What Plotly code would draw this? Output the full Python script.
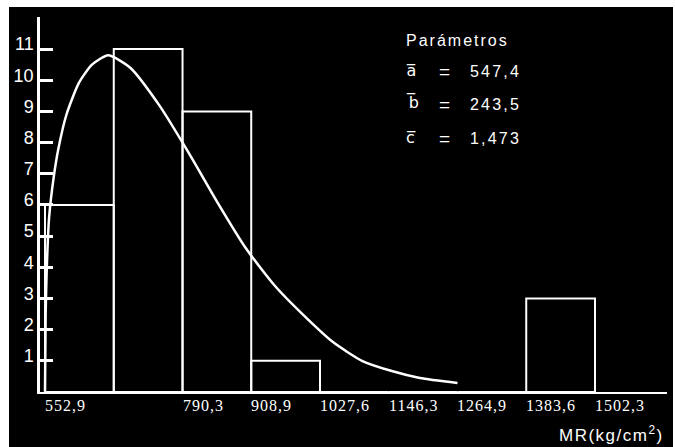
import plotly.graph_objects as go

# ---- data ----
class_edges = [552.9, 671.6, 790.3, 908.9, 1027.6, 1146.3, 1264.9, 1383.6, 1502.3]
frequencies = [6, 11, 9, 1, 0, 0, 0, 3]
edge_labels = ["552,9", "", "790,3", "908,9", "1027,6", "1146,3", "1264,9", "1383,6", "1502,3"]
y_ticks = [1, 2, 3, 4, 5, 6, 7, 8, 9, 10, 11]

curve_mr = [552.9, 554.0, 556.0, 560.0, 568.0, 576.0, 590.0, 611.0, 634.0, 662.0,
            700.0, 750.0, 800.0, 850.0, 900.0, 950.0, 1000.0, 1050.0, 1100.0,
            1150.0, 1200.0, 1264.9]
curve_freq = [0.0, 2.5, 4.0, 5.6, 6.9, 7.8, 8.9, 9.9, 10.5, 10.8,
              10.4, 9.2, 7.7, 6.1, 4.6, 3.4, 2.45, 1.6, 1.0,
              0.68, 0.45, 0.29]

param_title = "Parámetros"
param_names = ["a", "b", "c"]
param_values = ["547,4", "243,5", "1,473"]
x_title = "MR(kg/cm<sup>2</sup>)"

# ---- layout geometry ----
W, H = 675, 447
L, R, T, B = 40, 8, 17, 55
PW, PH = W - L - R, H - T - B


def px(x):
    return (x - L) / PW


def py(y):
    return (H - B - y) / PH


def spaced(text, sp):
    return '<span style="letter-spacing:%spx">%s</span>' % (sp, text)


mids = [(a + b) / 2 for a, b in zip(class_edges[:-1], class_edges[1:])]
widths = [b - a for a, b in zip(class_edges[:-1], class_edges[1:])]

fig = go.Figure()
fig.add_trace(go.Bar(
    x=mids, y=frequencies, width=widths,
    marker=dict(color="rgba(0,0,0,0)", line=dict(color="white", width=2)),
    hoverinfo="skip", showlegend=False,
))
fig.add_trace(go.Scatter(
    x=curve_mr, y=curve_freq, mode="lines",
    line=dict(color="white", width=2.5, shape="spline", smoothing=0.6),
    hoverinfo="skip", showlegend=False,
))

sans = "Liberation Sans"
serif = "Liberation Serif"
ann = []
for v, t in zip(class_edges, edge_labels):
    if t:
        ann.append(dict(x=v, xref="x", y=py(395), yref="paper", text=spaced(t, 1),
                        xanchor="left", yanchor="top", showarrow=False, xshift=-2,
                        font=dict(family=serif, size=16, color="white")))

ann.append(dict(x=px(404), y=py(41), xref="paper", yref="paper", text=spaced(param_title, 2),
                xanchor="left", yanchor="middle", showarrow=False,
                font=dict(family=sans, size=16, color="white")))
rows_y = [71, 104, 138]
for name, val, yy in zip(param_names, param_values, rows_y):
    ann.append(dict(x=px(404), y=py(yy - 1), xref="paper", yref="paper",
                    text=name + "\u0305", xanchor="left", yanchor="middle", showarrow=False,
                    font=dict(family="DejaVu Sans", size=16, color="white")))
    ann.append(dict(x=px(437), y=py(yy), xref="paper", yref="paper", text="=",
                    xanchor="left", yanchor="middle", showarrow=False,
                    font=dict(family=sans, size=19, color="white")))
    ann.append(dict(x=px(468), y=py(yy), xref="paper", yref="paper", text=spaced(val, 2.2),
                    xanchor="left", yanchor="middle", showarrow=False,
                    font=dict(family=sans, size=16, color="white")))

ann.append(dict(x=px(666), y=py(434), xref="paper", yref="paper", text=spaced(x_title, 1.5),
                xanchor="right", yanchor="middle", showarrow=False,
                font=dict(family=sans, size=17, color="white")))

shapes = [
    dict(type="rect", xref="paper", yref="paper", x0=px(0), x1=px(9), y0=py(H), y1=py(0),
         fillcolor="white", line=dict(width=0), layer="above"),
    dict(type="rect", xref="paper", yref="paper", x0=px(0), x1=px(W), y0=py(7), y1=py(0),
         fillcolor="white", line=dict(width=0), layer="above"),
    dict(type="rect", xref="paper", yref="paper", x0=px(673), x1=px(W), y0=py(H), y1=py(0),
         fillcolor="white", line=dict(width=0), layer="above"),
]

x0 = class_edges[0] - 5 * (class_edges[-1] - class_edges[0]) / 550
x1 = class_edges[0] + 622 * (class_edges[-1] - class_edges[0]) / 550

fig.update_layout(
    width=W, height=H, margin=dict(l=L, r=R, t=T, b=B, pad=0),
    paper_bgcolor="black", plot_bgcolor="black",
    showlegend=False, hovermode=False,
    annotations=ann, shapes=shapes,
    xaxis=dict(range=[x0, x1], showline=True, linecolor="white", linewidth=2,
               showticklabels=False, ticks="", showgrid=False, zeroline=False),
    yaxis=dict(range=[0, (H - B - T) / 31.18], showline=True, linecolor="white", linewidth=2.5,
               ticks="inside", ticklen=13, tickwidth=2.5, tickcolor="white",
               tickvals=y_ticks, tickfont=dict(family=sans, size=18, color="white"),
               ticklabelshift=-5,
               showgrid=False, zeroline=False),
)

fig.write_html("out.html", config={"displayModeBar": False})

# remove the default page margin so the figure fills the window exactly
with open("out.html", "r", encoding="utf-8") as f:
    html = f.read()
html = html.replace("<head>", "<head><style>html,body{margin:0;padding:0;overflow:hidden;background:black}</style>", 1)
with open("out.html", "w", encoding="utf-8") as f:
    f.write(html)
